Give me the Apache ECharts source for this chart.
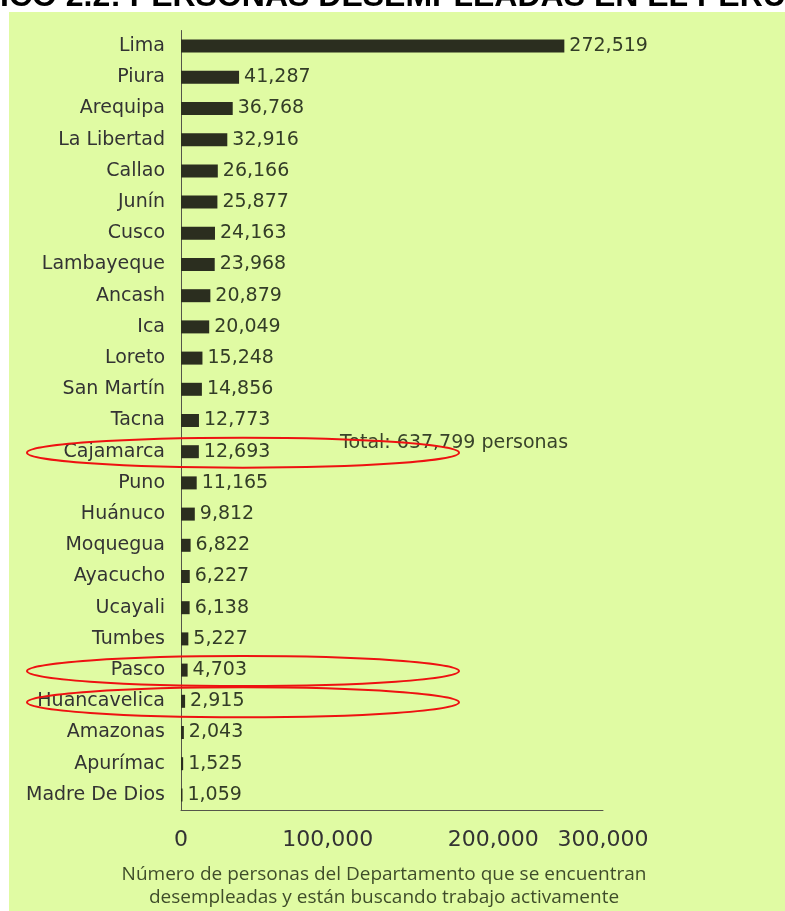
<!DOCTYPE html>
<html>
<head>
<meta charset="utf-8">
<script src="https://cdn.jsdelivr.net/npm/echarts@6/dist/echarts.min.js"></script>
<style>
  html, body { margin: 0; padding: 0; background: #ffffff; }
  #chart { width: 785px; height: 911px; }
</style>
</head>
<body>
<div id="chart"></div>
<script>
// Departamentos, de mayor a menor número de desempleados
const departamentos = [
  'Lima', 'Piura', 'Arequipa', 'La Libertad', 'Callao', 'Junín', 'Cusco',
  'Lambayeque', 'Ancash', 'Ica', 'Loreto', 'San Martín', 'Tacna', 'Cajamarca',
  'Puno', 'Huánuco', 'Moquegua', 'Ayacucho', 'Ucayali', 'Tumbes', 'Pasco',
  'Huancavelica', 'Amazonas', 'Apurímac', 'Madre De Dios'
];
const desempleados = [
  272519, 41287, 36768, 32916, 26166, 25877, 24163,
  23968, 20879, 20049, 15248, 14856, 12773, 12693,
  11165, 9812, 6822, 6227, 6138, 5227, 4703,
  2915, 2043, 1525, 1059
];
const ticksEje = [0, 100000, 200000, 300000];
const totalTexto = 'Total: 637,799 personas';
const tituloTexto = 'GRÁFICO 2.2: PERSONAS DESEMPLEADAS EN EL PERÚ';
const nombreEje = 'Número de personas del Departamento que se encuentran\ndesempleadas y están buscando trabajo activamente';
const resaltados = ['Cajamarca', 'Pasco', 'Huancavelica'];

const fmt = v => v.toLocaleString('en-US');

const tituloFuente = 'bold 32px "Liberation Sans", Arial, sans-serif';
const ctx = document.createElement('canvas').getContext('2d');
ctx.font = tituloFuente;
const desplazamiento = ctx.measureText('GRÁF').width;

const chart = echarts.init(document.getElementById('chart'), null, { renderer: 'canvas' });

const GRID = { left: 181, top: 30.5, width: 422, height: 780 };

// Estilo de cada etiqueta del eje horizontal (el relleno izquierdo desplaza el texto)
const estiloTick = (rellenoIzq) => ({
  fontFamily: '"DejaVu Sans", sans-serif',
  fontSize: 22,
  color: '#333333',
  padding: [0, 0, 0, rellenoIzq]
});

function opciones() {
  const graficos = [
    { type: 'rect', z: 0, silent: true,
      shape: { x: 9, y: 12, width: 790, height: 905 },
      style: { fill: '#e0fba3' } },
    { type: 'text', z: 5, silent: true, x: -desplazamiento, y: -3,
      style: { text: tituloTexto, font: tituloFuente, fill: '#000000',
               align: 'left', verticalAlign: 'middle' } },
    { type: 'text', z: 5, silent: true, x: 340, y: 443,
      style: { text: totalTexto, font: '19px "DejaVu Sans", sans-serif',
               fill: '#38432a', align: 'left', verticalAlign: 'middle' } },
    { type: 'text', z: 5, silent: true, x: 384, y: 886,
      style: { text: nombreEje, font: '19px "Open Sans", sans-serif',
               fill: '#3f4d2a', align: 'center', verticalAlign: 'middle',
               lineHeight: 23 } }
  ];
  // Elipses rojas alrededor de los departamentos resaltados
  resaltados.forEach(nombre => {
    const idx = departamentos.indexOf(nombre);
    const pt = chart.convertToPixel({ gridIndex: 0 }, [0, idx]);
    const cy = pt ? pt[1] : 0;
    graficos.push({
      type: 'ellipse', z: 10, silent: true,
      shape: { cx: 243, cy: cy + 1, rx: 216, ry: 15 },
      style: { fill: 'none', stroke: '#ee1111', lineWidth: 2 }
    });
  });
  return graficos;
}

chart.setOption({
  backgroundColor: '#ffffff',
  animation: false,
  grid: GRID,
  xAxis: {
    type: 'value',
    min: ticksEje[0],
    max: ticksEje[ticksEje.length - 1],
    interval: ticksEje[1] - ticksEje[0],
    axisLine: { show: true, lineStyle: { color: '#55554a', width: 1 } },
    axisTick: { show: false },
    splitLine: { show: false },
    axisLabel: {
      margin: 19,
      fontFamily: '"DejaVu Sans", sans-serif',
      fontSize: 22,
      color: '#333333',
      formatter: (v, i) => '{t' + i + '|' + fmt(v) + '}',
      rich: {
        t0: estiloTick(0),
        t1: estiloTick(12),
        t2: estiloTick(62),
        t3: estiloTick(0)
      }
    }
  },
  yAxis: {
    type: 'category',
    inverse: true,
    data: departamentos,
    axisLine: { show: true, lineStyle: { color: '#55554a', width: 1 } },
    axisTick: { show: false },
    axisLabel: {
      margin: 16,
      fontFamily: '"DejaVu Sans", sans-serif',
      fontSize: 19,
      color: '#333333'
    }
  },
  series: [{
    type: 'bar',
    data: desempleados,
    barWidth: 13,
    itemStyle: { color: '#2b2e1f' },
    label: {
      show: true,
      position: 'right',
      distance: 5,
      fontFamily: '"DejaVu Sans", sans-serif',
      fontSize: 19,
      color: '#333d27',
      formatter: p => fmt(p.value)
    }
  }],
  graphic: []
});

chart.setOption({ graphic: opciones() });
</script>
</body>
</html>
